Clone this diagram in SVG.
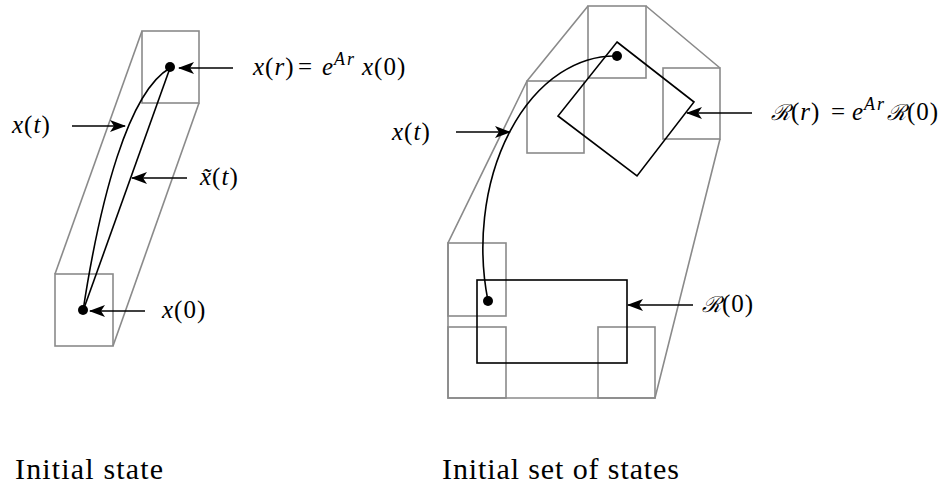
<svg xmlns="http://www.w3.org/2000/svg" width="949" height="486" viewBox="0 0 949 486">
<defs>
<marker id="ah" markerUnits="userSpaceOnUse" markerWidth="16" markerHeight="12" viewBox="0 0 16 12" refX="15" refY="6" orient="auto">
<path d="M0,0 L16,6 L0,12 L4,6 Z" fill="#000"/>
</marker>
</defs>
<style>
.g{fill:none;stroke:#8a8a8a;stroke-width:1.6}
.k{fill:none;stroke:#000;stroke-width:1.6}
.a{fill:none;stroke:#000;stroke-width:1.6;marker-end:url(#ah)}
.m{font-family:"Liberation Serif",serif;font-size:25px;fill:#000;letter-spacing:1px}
.i{font-style:italic}
.sup{font-style:italic;font-size:18px;letter-spacing:2px}
.cal{font-family:"DejaVu Serif",serif;font-style:italic;font-size:22px}
.cap{font-family:"Liberation Serif",serif;font-size:30px;fill:#000}
.dot{fill:#000}
</style>
<rect width="949" height="486" fill="#fff"/>
<g id="left-hull">
<line class="g" x1="142" y1="31" x2="55" y2="274"/>
<line class="g" x1="199" y1="103" x2="113" y2="346"/>
<rect class="g" x="142" y="31" width="57" height="72"/>
<rect class="g" x="55" y="274" width="58" height="72"/>
</g>
<g id="left-paths">
<path class="k" d="M83,311 C100,200 128,92 170,68"/>
<line class="k" x1="83" y1="311" x2="170" y2="68"/>
<circle class="dot" cx="170" cy="67" r="5"/>
<circle class="dot" cx="83" cy="310" r="5"/>
</g>
<g id="right-hull">
<path class="g" d="M527,81 L588,6 M646,6 L720,68 M720,139 L655,398 L448,398 L448,243 L527,81"/>
<rect class="g" x="588" y="6" width="58" height="72"/>
<rect class="g" x="527" y="81" width="57" height="72"/>
<rect class="g" x="663" y="68" width="57" height="71"/>
<rect class="g" x="448" y="243" width="58" height="73"/>
<rect class="g" x="448" y="327" width="58" height="71"/>
<rect class="g" x="598" y="327" width="57" height="71"/>
</g>
<g id="right-sets">
<rect class="k" x="477" y="280" width="150" height="83"/>
<polygon class="k" points="617,42 694,102 637,176 558,116"/>
<path class="k" d="M617,56 A132,192 0 0 0 488,301"/>
<circle class="dot" cx="617" cy="56" r="5"/>
<circle class="dot" cx="488" cy="301" r="5"/>
</g>
<g id="connectors">
<line class="a" x1="233" y1="68" x2="179" y2="68"/>
<line class="a" x1="72" y1="126" x2="125" y2="126"/>
<line class="a" x1="187" y1="178" x2="132" y2="178"/>
<line class="a" x1="145" y1="311" x2="90" y2="311"/>
<line class="a" x1="456" y1="132" x2="510" y2="132"/>
<line class="a" x1="752" y1="113" x2="687" y2="113"/>
<line class="a" x1="693" y1="305" x2="628" y2="305"/>
</g>
<g id="labels">
<text class="m" y="75"><tspan class="i" x="253">x</tspan>(<tspan class="i">r</tspan>)<tspan x="298">=</tspan><tspan class="i" x="322">e</tspan><tspan class="sup" dy="-10">Ar</tspan><tspan class="i" x="362" dy="10">x</tspan>(0)</text>
<text class="m" x="12" y="133"><tspan class="i">x</tspan>(<tspan class="i">t</tspan>)</text>
<text class="m" x="200" y="185"><tspan class="i">x̃</tspan>(<tspan class="i">t</tspan>)</text>
<text class="m" x="162" y="318"><tspan class="i">x</tspan>(0)</text>
<text class="m" x="392" y="140"><tspan class="i">x</tspan>(<tspan class="i">t</tspan>)</text>
<text class="m" y="120"><tspan class="cal" x="771">ℛ</tspan>(<tspan class="i">r</tspan>)<tspan x="831">=</tspan><tspan class="i" x="852">e</tspan><tspan class="sup" dy="-10">Ar</tspan><tspan class="cal" x="887" dy="10">ℛ</tspan>(0)</text>
<text class="m" y="312"><tspan class="cal" x="702">ℛ</tspan>(0)</text>
<text class="cap" x="15" y="479" textLength="148" lengthAdjust="spacing">Initial state</text>
<text class="cap" x="442" y="479" textLength="237" lengthAdjust="spacing">Initial set of states</text>
</g>
</svg>
